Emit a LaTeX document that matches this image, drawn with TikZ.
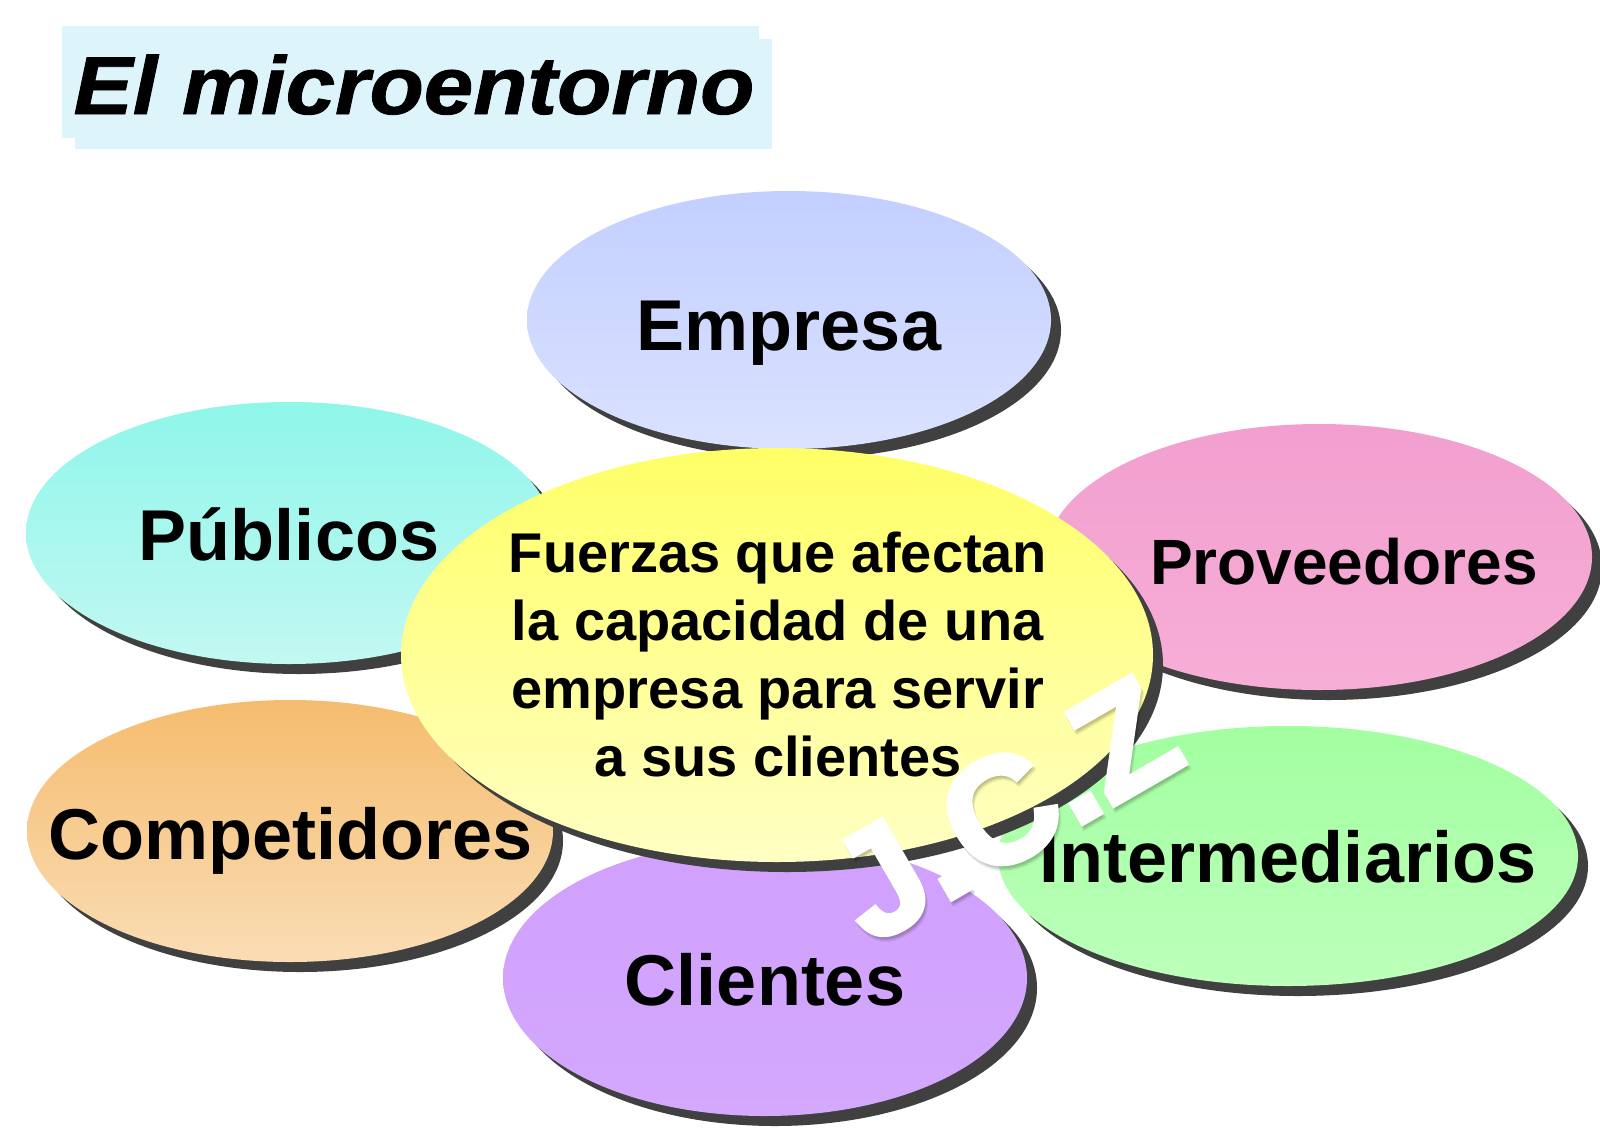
\documentclass[tikz,border=0pt]{standalone}
\usepackage{fontspec}
\setmainfont{Liberation Sans}
\newfontfamily\wmfont{Liberation Sans}[BoldFeatures={FakeBold=3}]
\newfontfamily\titlefont{Liberation Sans}[BoldItalicFeatures={FakeBold=1}]
\usetikzlibrary{shapes.geometric}
\definecolor{titlecol}{HTML}{DDF5FA}
\definecolor{midtop}{HTML}{FFFF66}
\definecolor{midbot}{HTML}{FFFFC4}
\newcommand{\szbig}{\fontsize{72}{80}\selectfont\bfseries}
\tikzset{x=1pt,y=-1pt,
  drop/.style={fill=black!75,ellipse,inner sep=0pt},
  petal/.style={ellipse,inner sep=0pt},
  titlebox/.style={fill=titlecol,inner sep=0pt},
  lab/.style={font=\szbig,text=black,inner sep=0pt,anchor=base},
  wm/.style={font=\wmfont\fontsize{151}{153}\selectfont\bfseries,inner sep=0pt,rotate=30},
}
\begin{document}
\begin{tikzpicture}
\useasboundingbox (0,0) rectangle (1600,1127);
\fill[white] (0,0) rectangle (1600,1127);
% title
\node[titlebox,minimum width=697pt,minimum height=112pt] (t1) at (410,82) {};
\node[titlebox,minimum width=697pt,minimum height=110pt] (t2) at (423,94) {};
\node[font=\titlefont\fontsize{82}{90}\selectfont\bfseries\itshape,inner sep=0pt,anchor=base,xscale=1.083,transform shape] (title) at (414,114) {El microentorno};
% Shadows and ellipses
\foreach \nm/\cx/\cy/\rx/\ry/\ct/\cb in {
  emp/789/320/262/129/C3CFFF/DAE2FF,
  pub/289/533/263/131/8FF6EA/C2F8F2,
  pro/1319/557/273/133/F29FCF/F6AED6,
  com/290/831/263/131/F5BC6E/FADDB5,
  int/1288/856/290/130/A2FFA0/BDFFBB,
  cli/765/978/262/138/D0A0FD/D4A8FD}{
  \definecolor{ctop}{HTML}{\ct}\definecolor{cbot}{HTML}{\cb}
  \node[drop,minimum width=2*\rx pt,minimum height=2*\ry pt] (\nm s) at (\cx+10,\cy+10) {};
  \node[petal,minimum width=2*\rx pt,minimum height=2*\ry pt,top color=ctop,bottom color=cbot] (\nm) at (\cx,\cy) {};
}
\node[drop,minimum width=752pt,minimum height=414pt] (mids) at (787,665) {};
\node[petal,minimum width=752pt,minimum height=414pt,top color=midtop,bottom color=midbot] (mid) at (777,655) {};
% labels
\node[lab] (lemp) at (789,350) {Empresa};
\node[lab] (lpub) at (289,560) {Públicos};
\node[lab,font=\fontsize{64}{70}\selectfont\bfseries] (lpro) at (1344,584) {Proveedores};
\node[lab] (lcom) at (291,859) {Competidores};
\node[lab] (lint) at (1288,882) {Intermediarios};
\node[lab] (lcli) at (765,1005) {Clientes};
\node[font=\fontsize{56}{68}\selectfont\bfseries,align=center,inner sep=0pt] (lmid) at (778,654) {Fuerzas que afectan\\la capacidad de una\\empresa para servir\\a sus clientes};
% watermark
\foreach \o/\a in {5/0.04,4/0.05,3/0.06}{
  \node[wm,text=black,opacity=\a] (ws\o) at (1004+\o*0.5,809+\o) {J.C.Z};
}
\node[wm,text=white] (wm) at (1004,809) {J.C.Z};
\end{tikzpicture}
\end{document}
